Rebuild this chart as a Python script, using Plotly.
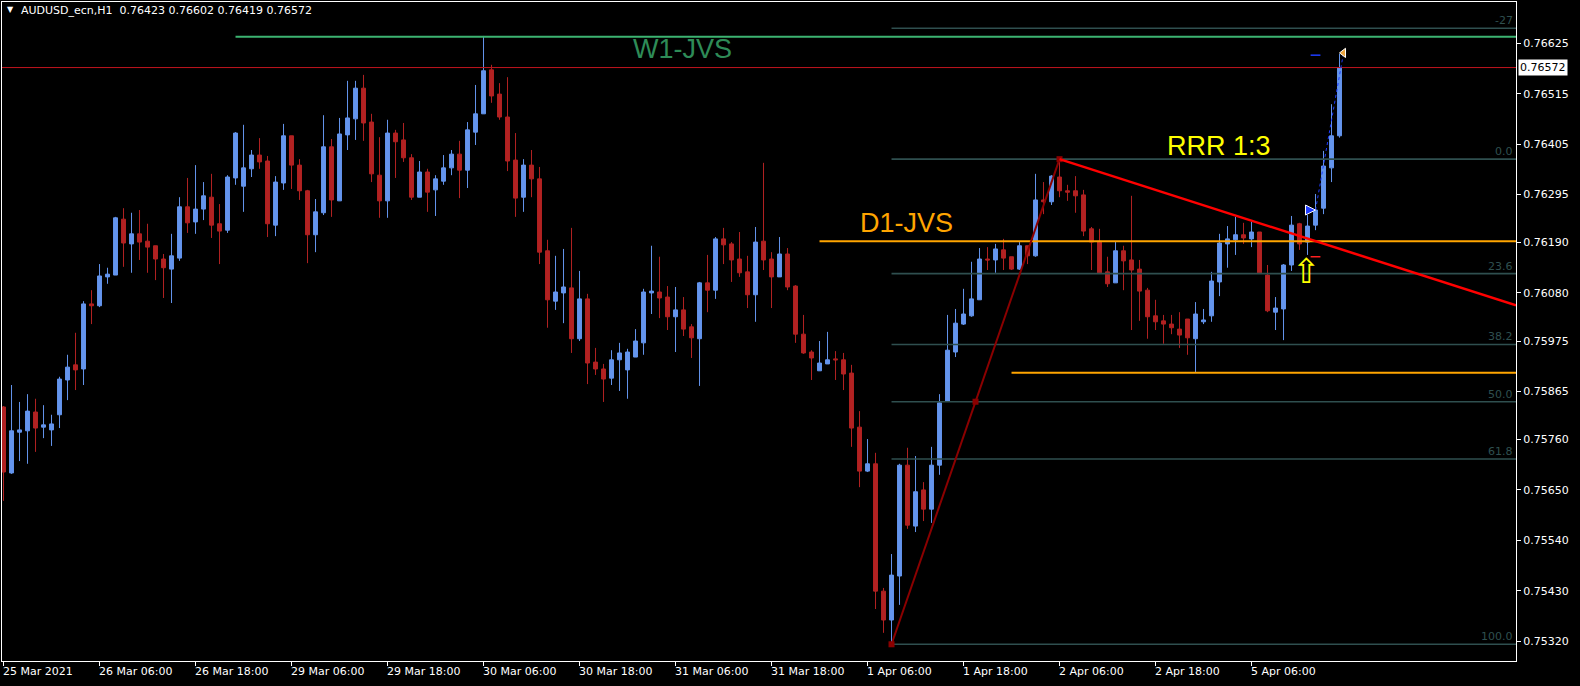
import plotly.graph_objects as go

# ---------------- data (prices in points, 1 point = 0.00001) ----------------
POINT = 0.00001
symbol_header = "AUDUSD_ecn,H1  0.76423 0.76602 0.76419 0.76572"

open_pts = [
    75831, 75687, 75776, 75779, 75820, 75787, 75781, 75814, 75890, 75923,
    75914, 76056, 76052, 76115, 76119, 76241, 76187, 76209, 76193, 76183,
    76154, 76132, 76156, 76268, 76235, 76263, 76289, 76231, 76217, 76331,
    76313, 76351, 76381, 76368, 76228, 76320, 76423, 76359, 76303, 76207,
    76255, 76399, 76281, 76425, 76460, 76527, 76453, 76337, 76281, 76429,
    76414, 76375, 76289, 76344, 76305, 76324, 76353, 76383, 76348, 76431,
    76471, 76567, 76514, 76464, 76370, 76289, 76359, 76329, 76172, 76062,
    76080, 76091, 75980, 76067, 75929, 75914, 75894, 75934, 75912, 75940,
    75971, 76080, 76082, 76071, 76028, 76043, 76006, 75980, 76102, 76086,
    76198, 76187, 76154, 76126, 76076, 76193, 76154, 76115, 76165, 76095,
    75990, 75951, 75910, 75925, 75936, 75934, 75905, 75787, 75691, 75707,
    75429, 75366, 75462, 75704, 75571, 75650, 75608, 75704, 75844, 75951,
    76012, 76030, 76065, 76154, 76152, 76174, 76159, 76132, 76183, 76161,
    76283, 76279, 76333, 76303, 76303, 76294, 76220, 76193, 76126, 76102,
    76172, 76152, 76132, 76086, 76030, 76019, 76012, 76001, 76023, 75980,
    76017, 76030, 76104, 76187, 76196, 76207, 76198, 76213, 76119, 76038,
    76045, 76141, 76231, 76191, 76228, 76265, 76353, 76423]

high_pts = [
    75833, 75879, 75842, 75859, 75849, 75835, 75814, 75897, 75945, 75993,
    76062, 76086, 76143, 76135, 76246, 76265, 76255, 76261, 76231, 76183,
    76165, 76209, 76289, 76331, 76359, 76322, 76340, 76274, 76337, 76431,
    76447, 76392, 76418, 76379, 76335, 76449, 76423, 76372, 76305, 76285,
    76468, 76416, 76462, 76543, 76543, 76556, 76471, 76420, 76458, 76436,
    76451, 76383, 76368, 76351, 76337, 76381, 76392, 76412, 76453, 76534,
    76641, 76578, 76538, 76551, 76429, 76372, 76392, 76355, 76196, 76161,
    76176, 76222, 76128, 76078, 75960, 75925, 75955, 75971, 75958, 76001,
    76089, 76183, 76159, 76095, 76093, 76071, 76012, 76104, 76163, 76202,
    76222, 76191, 76213, 76161, 76224, 76364, 76169, 76202, 76178, 76097,
    76032, 75955, 75975, 75995, 75953, 75949, 75923, 75822, 75761, 75731,
    75436, 75510, 75707, 75742, 75724, 75667, 75744, 75859, 76032, 76045,
    76089, 76148, 76178, 76180, 76187, 76198, 76159, 76191, 76183, 76340,
    76322, 76337, 76372, 76316, 76335, 76305, 76224, 76220, 76159, 76191,
    76183, 76292, 76152, 76091, 76065, 76032, 76032, 76038, 76023, 76060,
    76045, 76126, 76209, 76226, 76246, 76233, 76235, 76213, 76141, 76071,
    76143, 76248, 76233, 76250, 76296, 76390, 76492, 76602]

low_pts = [
    75626, 75685, 75713, 75707, 75733, 75763, 75746, 75785, 75846, 75868,
    75879, 76012, 76049, 76100, 76119, 76137, 76124, 76152, 76124, 76108,
    76069, 76058, 76150, 76211, 76209, 76239, 76200, 76143, 76211, 76316,
    76257, 76333, 76351, 76202, 76204, 76305, 76307, 76283, 76145, 76169,
    76250, 76246, 76281, 76392, 76414, 76412, 76322, 76244, 76244, 76331,
    76366, 76283, 76289, 76257, 76248, 76316, 76337, 76287, 76309, 76403,
    76471, 76495, 76458, 76346, 76246, 76257, 76289, 76143, 76004, 76043,
    76014, 75949, 75975, 75881, 75901, 75842, 75879, 75866, 75849, 75940,
    75945, 76034, 76025, 75999, 75951, 75986, 75938, 75877, 76038, 76067,
    76143, 76104, 76115, 76047, 76017, 76130, 76047, 76115, 76086, 75971,
    75947, 75890, 75910, 75925, 75890, 75868, 75744, 75656, 75689, 75390,
    75338, 75313, 75399, 75565, 75558, 75582, 75578, 75683, 75844, 75940,
    76010, 76028, 76065, 76130, 76124, 76130, 76130, 76130, 76143, 76159,
    76252, 76272, 76289, 76281, 76255, 76204, 76130, 76124, 76093, 76102,
    76086, 75999, 76019, 75980, 75999, 75969, 75990, 75960, 75945, 75907,
    76012, 76017, 76073, 76135, 76163, 76187, 76180, 76124, 76038, 75999,
    75977, 76128, 76174, 76163, 76217, 76252, 76322, 76419]

close_pts = [
    75689, 75779, 75781, 75822, 75785, 75792, 75794, 75892, 75918, 75912,
    76056, 76052, 76117, 76121, 76244, 76189, 76209, 76191, 76180, 76154,
    76135, 76161, 76268, 76233, 76263, 76292, 76228, 76215, 76333, 76429,
    76353, 76381, 76366, 76231, 76322, 76423, 76359, 76303, 76207, 76257,
    76399, 76283, 76427, 76462, 76527, 76451, 76340, 76281, 76429, 76410,
    76375, 76289, 76344, 76300, 76329, 76353, 76383, 76348, 76436, 76471,
    76565, 76510, 76464, 76368, 76287, 76359, 76329, 76169, 76065, 76082,
    76093, 75980, 76067, 75927, 75914, 75892, 75934, 75949, 75951, 75975,
    76082, 76084, 76069, 76028, 76043, 76001, 75982, 76102, 76086, 76198,
    76185, 76152, 76124, 76076, 76191, 76152, 76115, 76165, 76093, 75990,
    75949, 75938, 75927, 75934, 75934, 75903, 75785, 75691, 75707, 75429,
    75366, 75464, 75704, 75573, 75646, 75608, 75704, 75840, 75955, 76014,
    76034, 76067, 76154, 76152, 76176, 76156, 76132, 76183, 76161, 76283,
    76279, 76335, 76303, 76300, 76292, 76215, 76191, 76124, 76100, 76172,
    76150, 76130, 76084, 76028, 76017, 76012, 76004, 75988, 75982, 76034,
    76021, 76106, 76189, 76198, 76207, 76200, 76213, 76124, 76041, 76047,
    76141, 76228, 76187, 76226, 76261, 76357, 76423, 76572]

time_tick_bars = [0, 12, 24, 36, 48, 60, 72, 84, 96, 108, 120, 132, 144, 156]
time_tick_labels = ["25 Mar 2021", "26 Mar 06:00", "26 Mar 18:00", "29 Mar 06:00",
                    "29 Mar 18:00", "30 Mar 06:00", "30 Mar 18:00", "31 Mar 06:00",
                    "31 Mar 18:00", "1 Apr 06:00", "1 Apr 18:00", "2 Apr 06:00",
                    "2 Apr 18:00", "5 Apr 06:00"]
price_ticks = [0.76625, 0.76515, 0.76405, 0.76295, 0.76190, 0.76080, 0.75975,
               0.75865, 0.75760, 0.75650, 0.75540, 0.75430, 0.75320]

current_price = 0.76572
w1_level, w1_from_bar = 0.76639, 29
d1_level, d1_from_bar = 0.76193, 102
support_level, support_from_bar = 0.75906, 126

fib_low_bar, fib_low = 111, 0.75313
fib_high_bar, fib_high = 132, 0.76372
fib_levels = [-27, 0.0, 23.6, 38.2, 50.0, 61.8, 100.0]
fib_labels = ["-27", "0.0", "23.6", "38.2", "50.0", "61.8", "100.0"]

trend_bars = [132, 189.06]
trend_prices = [0.76372, 0.76053]

trade_open_bar, trade_open_price = 164, 0.76261
trade_close_bar, trade_close_price = 167.5, 0.76604
trade_tp, trade_sl = 0.76599, 0.76159
signal_bar, signal_price = 162.9, 0.76127

x_range = [-0.19, 189.06]
y_range = [0.752765, 0.767151]

# ---------------- build ----------------
bars = list(range(len(open_pts)))
o = [v * POINT for v in open_pts]
h = [v * POINT for v in high_pts]
l = [v * POINT for v in low_pts]
c = [v * POINT for v in close_pts]

BULL = "#6495ED"
BEAR = "#B22222"
FIBC = "#2F4F4F"
AXF = dict(family="DejaVu Sans", size=11, color="white")

fig = go.Figure()
fig.add_trace(go.Candlestick(
    x=bars, open=o, high=h, low=l, close=c,
    increasing=dict(line=dict(color=BULL, width=1), fillcolor=BULL),
    decreasing=dict(line=dict(color=BEAR, width=1), fillcolor=BEAR),
    whiskerwidth=0, hoverinfo="skip", showlegend=False))

def hline(x0, y, color, width, dash="solid"):
    fig.add_trace(go.Scatter(x=[x0, x_range[1] + 1], y=[y, y], mode="lines",
                             line=dict(color=color, width=width, dash=dash),
                             hoverinfo="skip", showlegend=False))

# fibonacci levels
rng = fib_high - fib_low
fib_prices = [fib_high - lv / 100.0 * rng for lv in fib_levels]
for fp in fib_prices:
    hline(fib_low_bar, fp, FIBC, 1.6)

# horizontal levels
hline(w1_from_bar, w1_level, "#3CB371", 2)
hline(x_range[0] - 1, current_price, "#C0141E", 1)
hline(d1_from_bar, d1_level, "#FFA500", 2)
hline(support_from_bar, support_level, "#FFA500", 2)

# fibo diagonal
fig.add_trace(go.Scatter(x=[fib_low_bar, fib_high_bar], y=[fib_low, fib_high], mode="lines",
                         line=dict(color="#8B0000", width=2), hoverinfo="skip", showlegend=False))
mid_bar = (fib_low_bar + fib_high_bar) / 2
fig.add_trace(go.Scatter(x=[fib_low_bar, mid_bar, fib_high_bar],
                         y=[fib_low, (fib_low + fib_high) / 2, fib_high], mode="markers",
                         marker=dict(symbol="square", size=6, color="#8B0000"),
                         hoverinfo="skip", showlegend=False))

# red trend line
fig.add_trace(go.Scatter(x=trend_bars, y=trend_prices, mode="lines",
                         line=dict(color="#FF0000", width=2.5), hoverinfo="skip", showlegend=False))

# trade
fig.add_trace(go.Scatter(x=[trade_open_bar, trade_close_bar], y=[trade_open_price, trade_close_price],
                         mode="lines", line=dict(color="#1E3CFF", width=1, dash="dot"),
                         hoverinfo="skip", showlegend=False))
fig.add_trace(go.Scatter(x=[trade_open_bar], y=[trade_open_price], mode="markers",
                         marker=dict(symbol="arrow-right", size=10, color="#1E3CFF",
                                     line=dict(color="white", width=1)),
                         hoverinfo="skip", showlegend=False))
fig.add_trace(go.Scatter(x=[trade_close_bar], y=[trade_close_price], mode="markers",
                         marker=dict(symbol="triangle-left", size=8, color="#E8A33C",
                                     line=dict(color="white", width=1)),
                         hoverinfo="skip", showlegend=False))
fig.add_trace(go.Scatter(x=[trade_open_bar], y=[trade_tp], mode="markers",
                         marker=dict(symbol="line-ew", size=7, line=dict(color="#1E3CFF", width=1.5)),
                         hoverinfo="skip", showlegend=False))
fig.add_trace(go.Scatter(x=[trade_open_bar], y=[trade_sl], mode="markers",
                         marker=dict(symbol="line-ew", size=7, line=dict(color="#FF2020", width=1.5)),
                         hoverinfo="skip", showlegend=False))

ann = []
# big text labels
ann.append(dict(x=84.9, y=0.76613, xref="x", yref="y", text="W1-JVS", showarrow=False,
                font=dict(family="Liberation Sans", size=27, color="#2E8B57")))
ann.append(dict(x=112.9, y=0.76233, xref="x", yref="y", text="D1-JVS", showarrow=False,
                font=dict(family="Liberation Sans", size=27, color="#FFA500")))
ann.append(dict(x=151.9, y=0.76401, xref="x", yref="y", text="RRR 1:3", showarrow=False,
                font=dict(family="Liberation Sans", size=27, color="#FFFF00")))
ann.append(dict(x=signal_bar, y=signal_price, xref="x", yref="y", text="\u21e7", showarrow=False,
                font=dict(family="DejaVu Sans", size=34, color="#FFFF00")))
# fib level labels
for fp, lab in zip(fib_prices, fib_labels):
    ann.append(dict(x=1, y=fp, xref="paper", yref="y", text=lab, showarrow=False,
                    xanchor="right", yanchor="bottom", xshift=-1, yshift=-1,
                    font=dict(family="DejaVu Sans", size=11, color=FIBC)))
# time labels
for b, lab in zip(time_tick_bars, time_tick_labels):
    ann.append(dict(x=b, y=0, xref="x", yref="paper", text=lab, showarrow=False,
                    xanchor="left", yanchor="top", xshift=-3, yshift=-2, font=AXF))
# current price label
ann.append(dict(x=1, y=current_price, xref="paper", yref="y", text="%.5f" % current_price,
                showarrow=False, xanchor="left", xshift=2, bgcolor="white", borderpad=1,
                font=dict(family="DejaVu Sans", size=11, color="black")))
# header
ann.append(dict(x=0, y=1, xref="paper", yref="paper", text="\u25bc", showarrow=False,
                xanchor="left", yanchor="top", xshift=3, yshift=-1,
                font=dict(family="DejaVu Sans", size=8, color="white")))
ann.append(dict(x=0, y=1, xref="paper", yref="paper", text=symbol_header, showarrow=False,
                xanchor="left", yanchor="top", xshift=17, yshift=0, font=AXF))

fig.update_layout(
    width=1580, height=686,
    margin=dict(l=2, r=64, t=2, b=25),
    paper_bgcolor="black", plot_bgcolor="black",
    showlegend=False,
    annotations=ann,
    xaxis=dict(range=x_range, rangeslider=dict(visible=False), showgrid=False, zeroline=False,
               tickvals=time_tick_bars, ticktext=[""] * len(time_tick_bars),
               ticks="outside", ticklen=4, tickcolor="white",
               showline=True, linecolor="white", linewidth=1, mirror=True, fixedrange=True),
    yaxis=dict(range=y_range, side="right", showgrid=False, zeroline=False,
               tickvals=price_ticks, ticktext=["%.5f" % p for p in price_ticks],
               ticks="outside", ticklen=4, tickcolor="white", tickfont=AXF,
               showline=True, linecolor="white", linewidth=1, mirror=True, fixedrange=True),
)

fig.write_html("out.html", config={"displayModeBar": False},
               post_script="document.body.style.margin='0';document.body.style.background='black';")
